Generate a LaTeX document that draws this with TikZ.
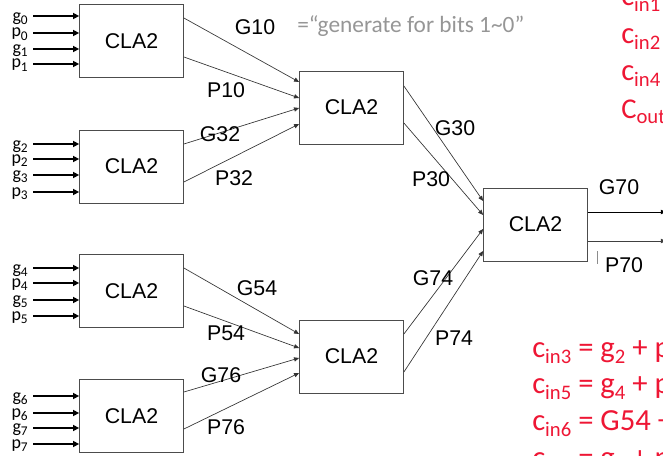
\documentclass[tikz,border=0pt]{standalone}
\usepackage{fontspec}
\setmainfont{Liberation Sans}
\newfontfamily\calfont{Carlito}
\usetikzlibrary{arrows.meta}
\definecolor{redtxt}{RGB}{238,22,52}
\definecolor{greytxt}{RGB}{150,150,150}
\newcommand\csb[1]{{\fontsize{23}{26}\selectfont c}\raisebox{-4.5pt}{\fontsize{15.5}{17}\selectfont #1}}
\newcommand\Csb[1]{{\fontsize{21.5}{26}\selectfont C}\raisebox{-4.5pt}{\fontsize{15.5}{17}\selectfont #1}}
\newcommand\rsb[1]{\raisebox{-4.5pt}{\fontsize{15.5}{17}\selectfont #1}}
\newcommand\isb[1]{\raisebox{-2.3pt}{\fontsize{10}{10}\selectfont #1}}
\begin{document}
\begin{tikzpicture}[x=0.75pt,y=-0.75pt,
  cla/.style={draw=black!70, line width=0.6pt, minimum width=78pt, minimum height=54.75pt, inner sep=0pt, font=\fontsize{16}{19}\selectfont},
  inarrow/.style={line width=1.5pt, -{Triangle[length=4.5pt,width=4.5pt]}},
  conn/.style={draw=black!80, line width=0.5pt, -{Triangle[length=3.8pt,width=3.2pt]}},
  lbl/.style={font=\fontsize{16}{19}\selectfont, inner sep=0pt},
  inlbl/.style={font=\calfont\fontsize{13.5}{14}\selectfont, anchor=base east, inner sep=0pt},
  redl/.style={text=redtxt, anchor=base west, inner sep=0pt, font=\calfont\fontsize{23}{26}\selectfont}
]
\useasboundingbox (0,0) rectangle (663,456);
\clip (0,0) rectangle (663,456);

% boxes
\node[cla] (b1) at (131.5,41) {CLA2};
\node[cla] (b2) at (131.5,166.5) {CLA2};
\node[cla] (b3) at (131.5,291) {CLA2};
\node[cla] (b4) at (131.5,416) {CLA2};
\node[cla] (b5) at (351.5,107.5) {CLA2};
\node[cla] (b6) at (351.5,356.5) {CLA2};
\node[cla] (b7) at (535.5,224.5) {CLA2};

% input arrows and labels
\foreach \bx/\ya/\yb/\yc/\yd/\na/\nb in {b1/16/33/49/64/0/1, b2/144/159/175/192/2/3, b3/268/283/300/316/4/5, b4/396/413/428/444/6/7}{
  \coordinate (\bx-i1) at (33,\ya);
  \coordinate (\bx-i2) at (33,\yb);
  \coordinate (\bx-i3) at (33,\yc);
  \coordinate (\bx-i4) at (33,\yd);
  \draw[inarrow] (\bx-i1) -- (\bx.west |- \bx-i1);
  \draw[inarrow] (\bx-i2) -- (\bx.west |- \bx-i2);
  \draw[inarrow] (\bx-i3) -- (\bx.west |- \bx-i3);
  \draw[inarrow] (\bx-i4) -- (\bx.west |- \bx-i4);
  \node[inlbl] (\bx-l1) at (28,\ya+5.5) {g\isb{\na}};
  \node[inlbl] (\bx-l2) at (28,\yb+4) {p\isb{\na}};
  \node[inlbl] (\bx-l3) at (28,\yc+4.5) {g\isb{\nb}};
  \node[inlbl] (\bx-l4) at (28,\yd+4) {p\isb{\nb}};
}

% connectors
\draw[conn] (b1.east |- 0,18)  -- (b5.west |- 0,82);
\draw[conn] (b1.east |- 0,57)  -- (b5.west |- 0,98);
\draw[conn] (b2.east |- 0,144) -- (b5.west |- 0,108);
\draw[conn] (b2.east |- 0,182) -- (b5.west |- 0,124);
\draw[conn] (b5.east |- 0,86)  -- (b7.west |- 0,201);
\draw[conn] (b5.east |- 0,123) -- (b7.west |- 0,215);
\draw[conn] (b3.east |- 0,268) -- (b6.west |- 0,334);
\draw[conn] (b3.east |- 0,306) -- (b6.west |- 0,348);
\draw[conn] (b4.east |- 0,392) -- (b6.west |- 0,358);
\draw[conn] (b4.east |- 0,429) -- (b6.west |- 0,373);
\draw[conn] (b6.east |- 0,334) -- (b7.west |- 0,229);
\draw[conn] (b6.east |- 0,372) -- (b7.west |- 0,251);
\coordinate (o1) at (666,212);
\coordinate (o2) at (666,241);
\draw[conn, draw=black, line width=0.7pt] (b7.east |- o1) -- (o1);
\draw[conn, draw=black!75, line width=0.7pt] (b7.east |- o2) -- (o2);
\draw[black!45, line width=0.4pt] (597,251) -- (597,264);

% connector labels
\node[lbl] (lG10) at (255,27) {G10};
\node[lbl] (lP10) at (226,90) {P10};
\node[lbl] (lG32) at (220,134) {G32};
\node[lbl] (lP32) at (234,178) {P32};
\node[lbl] (lG30) at (455,128) {G30};
\node[lbl] (lP30) at (431,179) {P30};
\node[lbl] (lG54) at (257,288) {G54};
\node[lbl] (lP54) at (226,333) {P54};
\node[lbl] (lG76) at (221,375) {G76};
\node[lbl] (lP76) at (226,427) {P76};
\node[lbl] (lG74) at (433,278) {G74};
\node[lbl] (lP74) at (454,338) {P74};
\node[lbl] (lG70) at (619,187) {G70};
\node[lbl] (lP70) at (624,265) {P70};

\node[anchor=base west, text=greytxt, font=\calfont\fontsize{17.5}{20}\selectfont, inner sep=0pt] (gen) at (297,33) {=“generate for bits 1\textasciitilde 0”};

% red equations
\node[redl] (r1) at (621,6) {\csb{in1}};
\node[redl] (r2) at (621,44) {\csb{in2}};
\node[redl] (r4) at (621,81) {\csb{in4}};
\node[redl] (ro) at (621,118) {\Csb{out}};
\node[redl] (r3) at (532,357) {\csb{in3} = g\rsb{2} + p\rsb{2}};
\node[redl] (r5) at (532,393) {\csb{in5} = g\rsb{4} + p\rsb{4}};
\node[redl] (r6) at (532,430) {\csb{in6} = G54 + P54};
\node[redl] (r7) at (532,467) {\csb{in7} = g\rsb{6} + p\rsb{6}};
\end{tikzpicture}
\end{document}
